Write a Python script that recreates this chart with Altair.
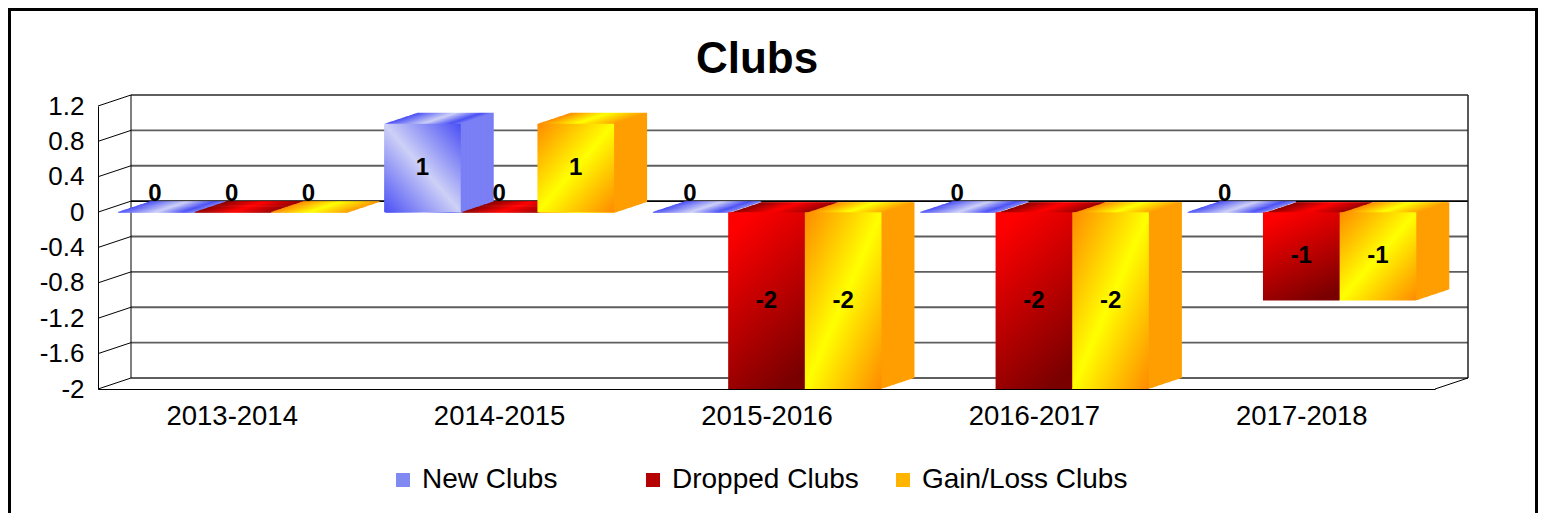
import json
import altair as alt
import pandas as pd

# ---------------- data ----------------
categories = ["2013-2014", "2014-2015", "2015-2016", "2016-2017", "2017-2018"]
series_names = ["New Clubs", "Dropped Clubs", "Gain/Loss Clubs"]
new_clubs = [0, 1, 0, 0, 0]
dropped_clubs = [0, 0, -2, -2, -1]
gain_loss_clubs = [0, 1, -2, -2, -1]
y_ticks = [1.2, 0.8, 0.4, 0, -0.4, -0.8, -1.2, -1.6, -2]
title_text = ["Clubs"]

rows = []
for si, (name, vals) in enumerate(zip(series_names, [new_clubs, dropped_clubs, gain_loss_clubs])):
    for ci, (cat, v) in enumerate(zip(categories, vals)):
        rows.append({"category": cat, "series": name, "ci": ci, "si": si, "value": v})
df = pd.DataFrame(rows)
ticks_df = pd.DataFrame({"tick": y_ticks})
box_df = pd.DataFrame({"top": [max(y_ticks)], "bottom": [min(y_ticks)]})
title_df = pd.DataFrame({"t": title_text})

# ---------------- layout ----------------
W, H = 1337, 283
PAD_L, PAD_T, PAD_R, PAD_B = 90, 98, 103, 124
DX, DY = 33, -11          # depth offset of the 3-D box
N = 24                    # extrusion steps
GROUP_PAD = 0.07
BAR_W = (1 - 2 * GROUP_PAD) / 3
FONT = "Liberation Sans"

xscale = alt.Scale(domain=[0, 5], nice=False, zero=False)
yscale = alt.Scale(domain=[min(y_ticks), max(y_ticks)], nice=False, zero=False)

cat_expr = json.dumps(categories)
X_AX = alt.Axis(
    values=[i + 0.5 for i in range(len(categories))],
    labelExpr=f"{cat_expr}[floor(datum.value)]",
    ticks=False, grid=False, title=None, domainColor="black", domainWidth=1,
    labelFontSize=27.5, labelPadding=13, labelColor="black", labelFont=FONT,
)
Y_AX = alt.Axis(
    values=y_ticks,
    labelExpr="toString(round(datum.value * 10) / 10)",
    ticks=False, grid=False, title=None, domainColor="black", domainWidth=1,
    labelFontSize=26, labelPadding=14, labelColor="black", labelFont=FONT,
)


def X(field):
    return alt.X(field, scale=xscale, axis=X_AX)


def Y(field):
    return alt.Y(field, scale=yscale, axis=Y_AX)


def grad(stops, x1=0, y1=0, x2=1, y2=0):
    return alt.Gradient(
        gradient="linear",
        stops=[alt.GradientStop(color=c, offset=o) for c, o in stops],
        x1=x1, y1=y1, x2=x2, y2=y2,
    )


front_grads = [
    grad([("#4a4ff5", 0), ("#cdd0f6", 0.5), ("#4a4ff5", 1)], 1, 0, 0, 1),
    grad([("#ff0000", 0), ("#7a0000", 1)], 0.3, 0, 0.7, 1),
    grad([("#ff8a00", 0), ("#ffff00", 0.5), ("#ff8a00", 1)], 0, 0, 1, 1),
]
ext_grads = [
    grad([("#4a4ff5", 0), ("#cdd0f6", 0.5), ("#4a4ff5", 0.85), ("#7d82f5", 1)]),
    grad([("#8b0000", 0), ("#ff0000", 0.5), ("#9b0000", 1)]),
    grad([("#ff8a00", 0), ("#ffff00", 0.5), ("#ff9c00", 1)]),
]
legend_colors = ["#8088f2", "#b40000", "#ffb400"]

base = alt.Chart(df).transform_calculate(
    x0=f"datum.ci + {GROUP_PAD} + datum.si * {BAR_W}",
    x1=f"datum.ci + {GROUP_PAD} + (datum.si + 1) * {BAR_W}",
    xm=f"datum.ci + {GROUP_PAD} + (datum.si + 0.5) * {BAR_W}",
    zero="0",
    half="datum.value / 2",
    label="toString(datum.value)",
)

layers = []

# outer frame
layers.append(
    alt.Chart(title_df).mark_rect(fillOpacity=0, stroke="black", strokeWidth=3).encode(
        x=alt.value(-PAD_L + 1.5), x2=alt.value(W + PAD_R - 1.5),
        y=alt.value(-PAD_T + 1.5), y2=alt.value(H + PAD_B + 50),
    )
)

# back-wall grid lines
layers.append(
    alt.Chart(ticks_df).mark_rule(yOffset=DY, strokeWidth=1.8).encode(
        x=alt.value(DX), x2=alt.value(W + DX),
        y=Y("tick:Q"),
        color=alt.condition("datum.tick == 0", alt.value("#000000"), alt.value("#5e5e5e")),
    )
)
# left-wall diagonals
layers.append(
    alt.Chart(ticks_df).mark_rule(y2Offset=DY, color="black", strokeWidth=1).encode(
        x=alt.value(0), x2=alt.value(DX), y=Y("tick:Q"), y2="tick:Q",
    )
)
# back verticals and bottom-right diagonal
layers.append(
    alt.Chart(box_df).mark_rule(yOffset=DY, y2Offset=DY, color="black", strokeWidth=1).encode(
        x=alt.value(DX), y=Y("top:Q"), y2="bottom:Q",
    )
)
layers.append(
    alt.Chart(box_df).mark_rule(yOffset=DY, y2Offset=DY, color="#222222", strokeWidth=1.5).encode(
        x=alt.value(W + DX), y=Y("top:Q"), y2="bottom:Q",
    )
)
layers.append(
    alt.Chart(box_df).mark_rule(y2Offset=DY, color="black", strokeWidth=1).encode(
        x=alt.value(W), x2=alt.value(W + DX), y=Y("bottom:Q"), y2="bottom:Q",
    )
)

# 3-D bars, series by series (left to right), extrusion first then front face
for si in range(len(series_names)):
    sb = base.transform_filter(f"datum.si == {si}")
    for k in range(N, 0, -1):
        dx = DX * k / N
        dy = DY * k / N
        layers.append(
            sb.mark_rect(color=ext_grads[si], xOffset=dx, x2Offset=dx,
                         yOffset=dy, y2Offset=dy + 1).encode(
                x=X("x0:Q"), x2="x1:Q", y=Y("value:Q"), y2="zero:Q",
            )
        )
    layers.append(
        sb.mark_rect(color=front_grads[si]).encode(
            x=X("x0:Q"), x2="x1:Q", y=Y("value:Q"), y2="zero:Q",
        )
    )

# value labels
layers.append(
    base.transform_filter("datum.value != 0").mark_text(
        font=FONT, fontSize=24, fontWeight="bold", color="black", baseline="middle", align="center"
    ).encode(x=X("xm:Q"), y=Y("half:Q"), text="label:N")
)
layers.append(
    base.transform_filter("datum.value == 0").mark_text(
        font=FONT, fontSize=24, fontWeight="bold", color="black", baseline="middle", align="center", dy=-18
    ).encode(x=X("xm:Q"), y=Y("value:Q"), text="label:N")
)

# title
layers.append(
    alt.Chart(title_df).mark_text(
        font=FONT, fontSize=44, fontWeight="bold", color="black", align="center", baseline="alphabetic"
    ).encode(x=alt.value(757 - 98), y=alt.value(73 - 106), text="t:N")
)

# legend (invisible marks, visible legend)
layers.append(
    base.mark_square(opacity=0).encode(
        x=X("xm:Q"), y=Y("value:Q"),
        color=alt.Color("series:N", scale=alt.Scale(domain=series_names, range=legend_colors),
                        legend=alt.Legend(
                            orient="none", legendX=291, legendY=360, direction="horizontal",
                            columns=3, gridAlign="all", columnPadding=11, title=None,
                            symbolType="square", symbolSize=196, symbolStrokeWidth=0,
                            symbolOpacity=1, labelFontSize=28, labelOffset=5,
                            labelFont=FONT, labelColor="black", labelLimit=400, padding=0,
                        )),
    )
)

chart = alt.layer(*layers).properties(
    width=W, height=H,
    padding={"left": PAD_L, "top": PAD_T, "right": PAD_R, "bottom": PAD_B},
    autosize=alt.AutoSizeParams(type="none"),
    background="white",
).configure_view(strokeWidth=0)

chart.save("out.html", embed_options={"renderer": "svg", "actions": False})
